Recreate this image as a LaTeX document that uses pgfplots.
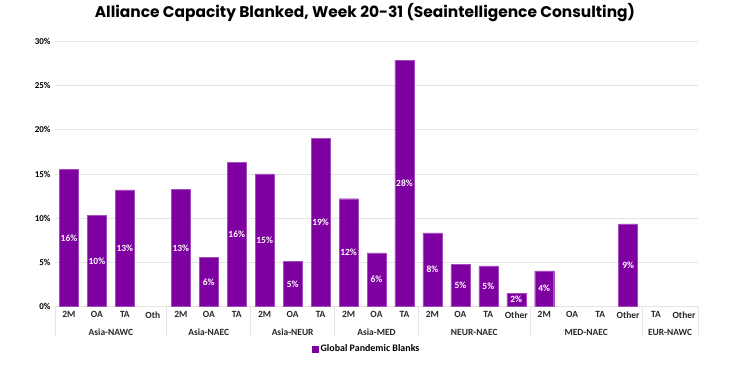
\documentclass[border=0pt]{standalone}
\usepackage{pgfplots}
\pgfplotsset{compat=1.18}
\usepackage{pgfplotstable}
\usepackage{fontspec}
\setmainfont{Carlito}
\newfontfamily\titlefont{Poppins}
\definecolor{barpurple}{HTML}{7F00A0}
\definecolor{gridgray}{HTML}{E4E4E4}

\pgfplotstableread{
x y
0 15.55
1 10.3
2 13.2
4 13.25
5 5.55
6 16.3
7 15.0
8 5.13
9 19.05
10 12.2
11 6.08
12 27.85
13 8.34
14 4.75
15 4.6
16 1.52
17 4.04
20 9.36
}\blanks

\begin{document}
\begin{tikzpicture}
\begin{axis}[
  at={(0,0)}, anchor=south west,
  scale only axis, width=643bp, height=265bp,
  xmin=-0.5, xmax=22.5, ymin=0, ymax=30,
  clip=false,
  axis x line*=bottom, axis y line*=left,
  y axis line style={draw=none},
  x axis line style={draw=gridgray, line width=0.8pt},
  ymajorgrids, grid style={draw=gridgray, line width=0.8pt},
  ytick={0,5,...,30},
  yticklabel={\pgfmathprintnumber{\tick}\%},
  /pgf/number format/assume math mode=true,
  yticklabel style={font=\bfseries\fontsize{9}{10}\selectfont, xshift=-1bp},
  ytick style={draw=none},
  xtick={0,...,22},
  xticklabels={2M,OA,TA,Oth,2M,OA,TA,2M,OA,TA,2M,OA,TA,2M,OA,TA,Other,2M,OA,TA,Other,TA,Other},
  xticklabel style={font=\bfseries\fontsize{9.5}{11}\selectfont, text=black!85, yshift=-1.5bp},
  xtick style={draw=none},
  bar width=19bp,
  title={Alliance Capacity Blanked, Week 20-31 (Seaintelligence Consulting)},
  title style={font=\titlefont\bfseries\fontsize{15.5}{18}\selectfont, at={(0.482,1)}, anchor=center, yshift=23bp},
  legend style={at={(0.485,-0.161)}, anchor=center, draw=none, fill=none,
     font=\bfseries\fontsize{10}{12}\selectfont, inner sep=1pt},
  legend image code/.code={\fill[barpurple] (0bp,-3bp) rectangle (6bp,3bp);},
]
\addplot[ybar, fill=barpurple, draw=barpurple!70!white, line width=0.3pt] table[x=x, y=y] {\blanks};
\addlegendentry{Global Pandemic Blanks}
\addplot[only marks, mark=none, point meta=explicit,
  nodes near coords={\pgfmathprintnumber[fixed,precision=0]{\pgfplotspointmeta}\%},
  every node near coord/.append style={anchor=center, text=white,
     font=\bfseries\fontsize{9.5}{11}\selectfont}]
  table[x=x, y expr=\thisrow{y}/2, meta=y] {\blanks};
\foreach \s in {-0.5,3.5,6.5,9.5,12.5,16.5,20.5,22.5} {
  \edef\temp{\noexpand\draw[gridgray, line width=0.8pt] (axis cs:\s,0) -- ([yshift=-30bp]axis cs:\s,0);}
  \temp
}
\begin{scope}[every node/.style={font=\bfseries\fontsize{9.5}{11}\selectfont, text=black!85}]
\node at (axis cs:1.5,0) [yshift=-26bp] {Asia-NAWC};
\node at (axis cs:5,0) [yshift=-26bp] {Asia-NAEC};
\node at (axis cs:8,0) [yshift=-26bp] {Asia-NEUR};
\node at (axis cs:11,0) [yshift=-26bp] {Asia-MED};
\node at (axis cs:14.5,0) [yshift=-26bp] {NEUR-NAEC};
\node at (axis cs:18.5,0) [yshift=-26bp] {MED-NAEC};
\node at (axis cs:21.5,0) [yshift=-26bp] {EUR-NAWC};
\end{scope}
\end{axis}
\path[use as bounding box] (-55bp,-60bp) rectangle (688bp,305bp);
\end{tikzpicture}
\end{document}
